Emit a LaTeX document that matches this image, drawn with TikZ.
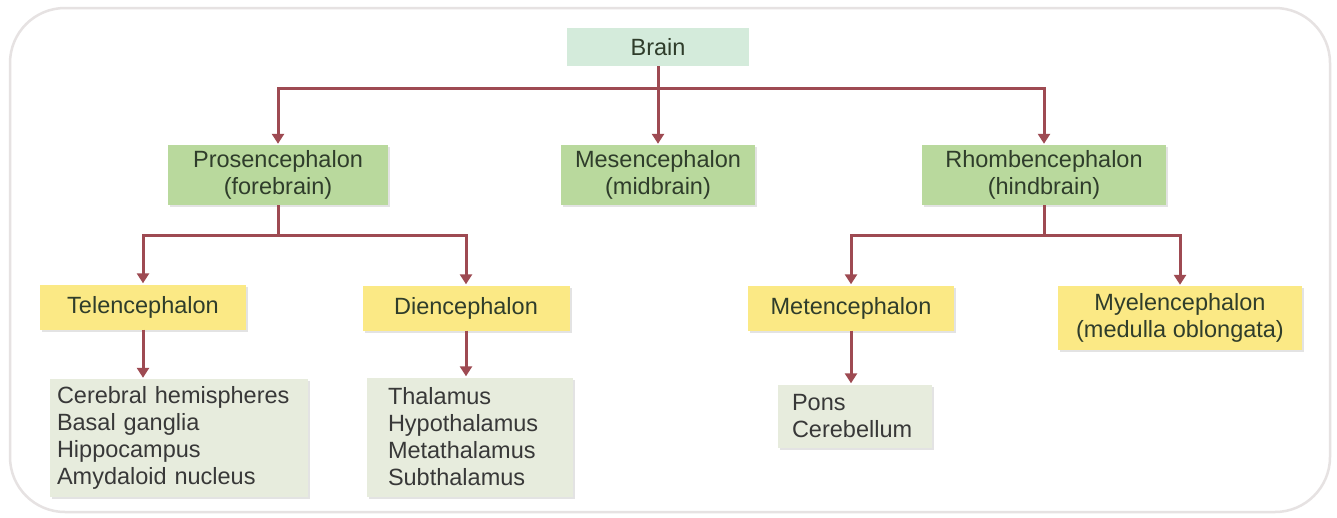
\documentclass[tikz,border=0pt]{standalone}
\usepackage{fontspec}
\setmainfont{Liberation Sans}
\usetikzlibrary{arrows.meta,shadows}
\definecolor{arrc}{HTML}{9E4A52}
\definecolor{brainfill}{HTML}{D4EBDB}
\definecolor{greenfill}{HTML}{B9D99D}
\definecolor{yellowfill}{HTML}{FBE985}
\definecolor{listfill}{HTML}{E7ECDD}
\definecolor{framec}{HTML}{E6E2E2}
\definecolor{boxtext}{HTML}{2F3D2B}
\definecolor{listtext}{HTML}{383838}
\tikzset{
  x=1pt, y=-1pt,
  every node/.style={font=\fontsize{23.5}{27}\selectfont, inner sep=0pt},
  shad/.style={drop shadow={opacity=0.22, shadow xshift=2pt, shadow yshift=-2pt}},
  brainbox/.style={fill=brainfill, text=boxtext, minimum width=182, minimum height=38},
  greenbox/.style={fill=greenfill, text=boxtext, align=center, shad, minimum height=60},
  yellowbox/.style={fill=yellowfill, text=boxtext, align=center, shad, minimum height=45},
  listbox/.style={fill=listfill, text=listtext, align=left, shad},
  arr/.style={draw=arrc, line width=3pt, -{Triangle[width=12pt,length=10pt]}, shorten >=1pt},
  ln/.style={draw=arrc, line width=3pt}
}
\begin{document}
\begin{tikzpicture}
\useasboundingbox (0,0) rectangle (1337,517);
\fill[white] (0,0) rectangle (1337,517);
\draw[framec, line width=2.5pt, rounded corners=55pt] (10,8) rectangle (1330,512);

% level 0
\node[brainbox] (brain) at (658,47) {Brain};
% level 1
\node[greenbox, minimum width=220] (pros) at (278,175) {Prosencephalon\\(forebrain)};
\node[greenbox, minimum width=194] (mes) at (658,175) {Mesencephalon\\(midbrain)};
\node[greenbox, minimum width=244] (rhomb) at (1044,175) {Rhombencephalon\\(hindbrain)};
% level 2
\node[yellowbox, minimum width=206] (tel) at (143,307) {Telencephalon};
\node[yellowbox, minimum width=207] (die) at (466,308) {Diencephalon};
\node[yellowbox, minimum width=206] (met) at (851,308) {Metencephalon};
\node[yellowbox, minimum width=244, minimum height=64] (mye) at (1180,318) {Myelencephalon\\(medulla oblongata)};
% level 3
\node[listbox, text width=244, inner xsep=7pt, minimum height=118] (l1) at (179,438)
  {Cerebral hemispheres\\Basal ganglia\\Hippocampus\\Amydaloid nucleus};
\node[listbox, text width=164, inner xsep=21pt, minimum height=119] (l2) at (470,437)
  {Thalamus\\Hypothalamus\\Metathalamus\\Subthalamus};
\node[listbox, text width=126, inner xsep=14pt, minimum height=63] (l3) at (855,416)
  {Pons\\Cerebellum};

% connectors
\coordinate (j1) at (658,88);
\draw[arr] (brain) -- (mes);
\draw[arr] (j1) -| (pros);
\draw[arr] (j1) -| (rhomb);

\coordinate (j2) at (278,235);
\draw[ln] (pros) -- (j2);
\draw[arr] (j2) -| (tel);
\draw[arr] (j2) -| (die);

\coordinate (j3) at (1044,235);
\draw[ln] (rhomb) -- (j3);
\draw[arr] (j3) -| (met);
\draw[arr] (j3) -| (mye);

\draw[arr] (tel) -- (tel |- l1.north);
\draw[arr] (die) -- (die |- l2.north);
\draw[arr] (met) -- (met |- l3.north);
\end{tikzpicture}
\end{document}
